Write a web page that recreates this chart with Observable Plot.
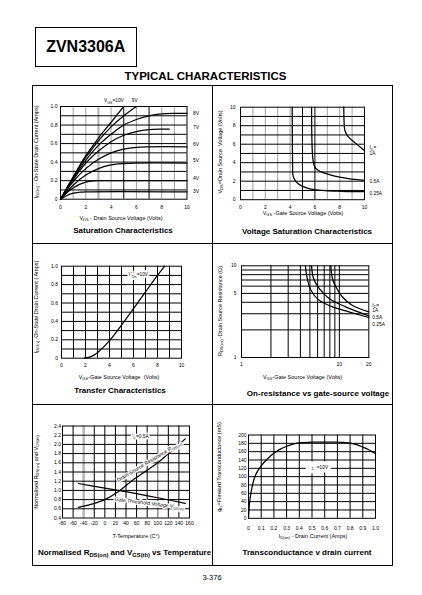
<!DOCTYPE html>
<html><head><meta charset="utf-8">
<script src="https://cdn.jsdelivr.net/npm/d3@7"></script>
<script src="https://cdn.jsdelivr.net/npm/@observablehq/plot@0.6"></script>
<style>
html,body{margin:0;padding:0;background:#fff;}
#page{position:relative;width:422px;height:595px;overflow:hidden;font-family:"Liberation Sans",Arial,Helvetica,sans-serif;color:#000;background:#fff;}
.abs{position:absolute;white-space:nowrap;line-height:1;}
.c{transform:translate(-50%,-50%);}
.r{transform:translate(-50%,-50%) rotate(-90deg);}
sub{font-size:0.72em;vertical-align:-0.3em;line-height:0;}
.lbl{font-size:5.5px;}
.ttl{font-size:8px;font-weight:bold;}
.ln{position:absolute;background:#000;}
</style></head><body><div id="page"></div>
<script>
// ---------- DATA ----------
// Chart 1: Saturation characteristics  (VDS volts, ID amps)
const satXTicks = [0,2,4,6,8,10];
const satYTicks = [0,0.2,0.4,0.6,0.8,1.0];
const satGridDark = [5,7];
const satGridLight = [1,2,4,6,8,9];
const satGridHeavy = [3];
const satGridY = [0.1,0.2,0.3,0.4,0.5,0.6,0.7,0.8,0.9];
const sat10V = [[0,0],[0.5,0.12],[1,0.24],[1.5,0.36],[2,0.47],[3,0.66],[4,0.83],[5,1.0]];
const sat9V  = [[0,0],[0.5,0.12],[1,0.235],[2,0.45],[3,0.63],[4,0.78],[5,0.9],[6,1.0]];
const sat8V  = [[0,0],[1,0.225],[2,0.42],[3,0.58],[4,0.7],[5,0.8],[6,0.86],[7,0.9],[8,0.92],[9,0.925],[10,0.925]];
const sat7V  = [[0,0],[1,0.21],[2,0.39],[3,0.52],[4,0.62],[5,0.69],[6,0.73],[7,0.75],[8,0.755],[8.6,0.755]];
const sat6V  = [[0,0],[1,0.19],[2,0.33],[3,0.43],[4,0.5],[5,0.54],[6,0.56],[7,0.565],[10,0.565]];
const sat5V  = [[0,0],[1,0.15],[2,0.26],[3,0.33],[4,0.37],[5,0.385],[6,0.39],[10,0.39]];
const sat4V  = [[0,0],[0.5,0.07],[1,0.12],[1.5,0.16],[2,0.185],[3,0.2],[4,0.2],[10,0.2]];
const sat3V  = [[0,0],[0.5,0.04],[1,0.065],[1.5,0.075],[2,0.08],[10,0.08]];
const satSideLabels = ["8V","7V","6V","5V","4V","3V"];
const satSideY = [0.92,0.76,0.58,0.41,0.21,0.075];

// Chart 2: Voltage saturation (VGS volts, VDS volts)
const vsXTicks = [0,2,4,6,8,10];
const vsYTicks = [0,2,4,6,8,10];
const vsGridDark = [5,6];
const vsGridLight = [1,2,3,4,7,8,9];
const vsGridY = [1,2,3,4,5,6,7,8,9];
const vs1A   = [[8.33,10],[8.35,8.5],[8.4,7.6],[8.5,7.2],[8.7,6.8],[9.2,6.2],[9.6,5.75],[10,5.3]];
const vs05A  = [[5.73,10],[5.75,7],[5.8,5],[5.87,4.1],[6.0,3.5],[6.3,3.15],[6.6,2.95],[7.6,2.55],[8.7,2.27],[10,2.08]];
const vs025A = [[4.17,10],[4.18,7],[4.2,4],[4.24,2.6],[4.44,2.0],[4.84,1.55],[5.4,1.25],[5.8,1.12],[6.85,0.97],[8,0.91],[10,0.88]];

// Chart 3: Transfer characteristics (VGS volts, ID amps)
const trXTicks = [0,2,4,6,8,10];
const trYTicks = [0,0.2,0.4,0.6,0.8,1.0];
const trGridX = [1,2,3,4,5,6,7,8,9];
const trGridY = [0.1,0.2,0.3,0.4,0.5,0.6,0.7,0.8,0.9];
const trCurve = [[1.9,0],[2.5,0.02],[3,0.06],[3.5,0.12],[4,0.19],[5,0.36],[6,0.54],[7,0.72],[8,0.9],[8.6,1.0]];

// Chart 4: On-resistance vs VGS (log-log)
const ronXTicks = [1,10,20];
const ronYTicks = [1,5,10];
const ronGridX = [2,3,4,5,6,7,8,9,10];
const ronGridY = [2,3,4,5,6,7,8,9];
const ron1A   = [[8.18,10],[8.5,7.27],[9.2,5.9],[10.7,4.6],[13.5,3.72],[20,3.15]];
const ron05A  = [[5.2,10],[5.45,7.27],[6.22,5.66],[7.85,4.4],[11.6,3.57],[20,2.85]];
const ron025A = [[4.5,10],[4.7,7.27],[5.12,5.42],[6.22,4.2],[8.5,3.57],[12.5,3.15],[20,2.73]];

// Chart 5: Normalised RDS(on) and VGS(th) vs temperature
const tmpXTicks = [-80,-60,-40,-20,0,20,40,60,80,100,120,140,160];
const tmpYTicks = [0.4,0.6,0.8,1.0,1.2,1.4,1.6,1.8,2.0,2.2,2.4];
const tmpGridX = [-60,-20,0,20,40,60,80,120,140];
const tmpGridXGray = [100];
const tmpGridXHeavy = [-40];
const tmpGridY = [0.6,0.8,1.0,1.2,1.4,1.6,1.8,2.0,2.2];
const tmpRds = [[-50,0.63],[-25,0.7],[0,0.8],[25,0.97],[50,1.2],[75,1.4],[100,1.6],[125,1.85],[152,2.12]];
const tmpVth = [[-50,1.15],[0,1.05],[25,1.0],[50,0.95],[100,0.84],[152,0.72]];

// Chart 6: Transconductance vs drain current
const gfsXTicks = [0,0.1,0.2,0.3,0.4,0.5,0.6,0.7,0.8,0.9,1.0];
const gfsYTicks = [0,20,40,60,80,100,120,140,160,180,200];
const gfsGridX = [0.1,0.2,0.3,0.4,0.5,0.6,0.7,0.8,0.9];
const gfsGridY = [20,40,60,80,100,120,140,160,180];
const gfsCurve = [[0,0],[0.005,25],[0.01,42],[0.02,62],[0.03,78],[0.05,100],[0.075,115],[0.1,126],[0.15,143],[0.2,156],[0.25,166],[0.3,173],[0.35,178],[0.4,181],[0.5,183],[0.6,183],[0.7,183],[0.75,182],[0.8,180.5],[0.85,177],[0.9,171],[0.95,164],[1.0,155]];

// ---------- HELPERS ----------
const FONT = '"Liberation Sans", Arial, Helvetica, sans-serif';
const page = document.getElementById('page');
const rows = (name, pts) => pts.map(([x, y]) => ({x, y, k: name}));
const fmt1 = d => d === 0 ? "0" : d.toFixed(1);
const fmtInt = d => String(d);

function subs(svg) {
  svg.querySelectorAll('text').forEach(t => {
    const s = t.textContent;
    if (!s.includes('_{')) return;
    const size = parseFloat(t.getAttribute('font-size') || getComputedStyle(t).fontSize) || 5;
    while (t.firstChild) t.removeChild(t.firstChild);
    let shifted = false;
    s.split(/(_\{[^}]*\})/).forEach(p => {
      if (!p) return;
      const ts = document.createElementNS('http://www.w3.org/2000/svg', 'tspan');
      if (p.startsWith('_{')) {
        ts.textContent = p.slice(2, -1);
        ts.setAttribute('font-size', size * 0.72);
        ts.setAttribute('dy', size * 0.3);
        shifted = true;
      } else {
        ts.textContent = p;
        if (shifted) { ts.setAttribute('dy', -size * 0.3); shifted = false; }
      }
      t.appendChild(ts);
    });
  });
}
function place(svg, left, top) {
  svg.style.position = 'absolute';
  svg.style.left = left + 'px';
  svg.style.top = top + 'px';
  subs(svg);
  page.appendChild(svg);
}
function div(html, cls, x, y, css) {
  const d = document.createElement('div');
  d.className = 'abs ' + cls;
  d.innerHTML = html;
  d.style.left = x + 'px';
  d.style.top = y + 'px';
  if (css) d.style.cssText += css;
  page.appendChild(d);
  return d;
}
function line(x, y, w, h) {
  const d = document.createElement('div');
  d.className = 'ln';
  d.style.cssText += `left:${x}px;top:${y}px;width:${w}px;height:${h}px;`;
  page.appendChild(d);
}
const baseStyle = {fontFamily: FONT, fontSize: "5px", background: "transparent", overflow: "visible", color: "#000"};
const gridDark = {stroke: "#000", strokeWidth: 1, strokeOpacity: 1};
const gridLight = {stroke: "#a0a0a0", strokeWidth: 1, strokeOpacity: 1};
const curveStyle = {stroke: "#000", strokeWidth: 1.25, curve: "catmull-rom"};
const txt = {fill: "#000", fontSize: 4.8};

// ---------- PAGE FURNITURE ----------
div("ZVN3306A", "", 35, 27, "width:101.5px;height:39.5px;border:1px solid #000;box-sizing:border-box;display:flex;align-items:center;justify-content:center;font-weight:bold;font-size:16px;");
div("TYPICAL CHARACTERISTICS", "c", 205.5, 77, "font-weight:bold;font-size:11.5px;");
div("", "", 31.5, 85, "width:361px;height:481px;border:1px solid #000;box-sizing:border-box;");
line(212.2, 85, 1, 481);
line(31.5, 243, 361, 1);
line(31.5, 404, 361, 1);
div("3-376", "c", 212, 578, "font-size:7.5px;");

// ---------- CHART 1 ----------
{
  const data = [["10V",sat10V],["9V",sat9V],["8V",sat8V],["7V",sat7V],["6V",sat6V],["5V",sat5V],["4V",sat4V],["3V",sat3V]].flatMap(([n,p]) => rows(n,p));
  const side = satSideLabels.map((t,i) => ({t, y: satSideY[i]}));
  const svg = Plot.plot({
    width: 180, height: 157, marginLeft: 28, marginRight: 25.5, marginTop: 20, marginBottom: 44.3,
    style: baseStyle,
    x: {domain: [0,10], ticks: satXTicks, tickSize: 0, tickPadding: 6, tickFormat: fmtInt, label: null},
    y: {domain: [0,1], ticks: satYTicks, tickSize: 0, tickPadding: 3, tickFormat: fmt1, label: null},
    marks: [
      Plot.ruleX(satGridLight, gridLight),
      Plot.ruleX(satGridHeavy, {stroke: "#b4b4b4", strokeWidth: 2.2}),
      Plot.ruleX(satGridDark, gridDark),
      Plot.ruleY(satGridY, gridDark),
      Plot.line(data, {x: "x", y: "y", z: "k", ...curveStyle}),
      Plot.frame({stroke: "#000", strokeWidth: 1}),
      Plot.text([{x: 5, y: 1, t: "V_{GS}=10V"}, {x: 6.1, y: 1, t: "9V"}], {x: "x", y: "y", text: "t", dy: -6, textAnchor: "end", ...txt}),
      Plot.text(side, {frameAnchor: "right", y: "y", text: "t", dx: 6, dy: -1, textAnchor: "start", ...txt, fontSize: 5})
    ]
  });
  place(svg, 32, 86);
  div("I<sub>D(On)</sub> - On-State Drain Current (Amps)", "r lbl", 36.5, 152);
  div("V<sub>DS</sub> - Drain Source Voltage (Volts)", "c lbl", 121, 219);
  div("Saturation Characteristics", "c ttl", 123, 231);
}

// ---------- CHART 2 ----------
{
  const data = [...rows("1A", vs1A), ...rows("0.5A", vs05A), ...rows("0.25A", vs025A)];
  const svg = Plot.plot({
    width: 179, height: 157, marginLeft: 27, marginRight: 28, marginTop: 20.7, marginBottom: 43.8,
    style: baseStyle,
    x: {domain: [0,10], ticks: vsXTicks, tickSize: 0, tickPadding: 5.5, tickFormat: fmtInt, label: null},
    y: {domain: [0,10], ticks: vsYTicks, tickSize: 0, tickPadding: 5, tickFormat: fmtInt, label: null},
    marks: [
      Plot.ruleX(vsGridLight, gridLight),
      Plot.ruleX(vsGridDark, gridDark),
      Plot.ruleY(vsGridY, gridDark),
      Plot.line(data, {x: "x", y: "y", z: "k", ...curveStyle}),
      Plot.frame({stroke: "#000", strokeWidth: 1}),
      Plot.text([{t: "I_{D}=", y: 5.6}, {t: "1A", y: 5.05}, {t: "0.5A", y: 1.95}, {t: "0.25A", y: 0.7}],
        {frameAnchor: "right", y: "y", text: "t", dx: 5, textAnchor: "start", ...txt})
    ]
  });
  place(svg, 213, 86);
  div("V<sub>DS</sub>=Drain Source&nbsp; Voltage (Volts)", "r lbl", 221, 152);
  div("V<sub>GS</sub> -Gate Source Voltage (Volts)", "c lbl", 303, 213.5);
  div("Voltage Saturation Characteristics", "c ttl", 307, 231.5);
}

// ---------- CHART 3 ----------
{
  const svg = Plot.plot({
    width: 180, height: 160, marginLeft: 29, marginRight: 31, marginTop: 21.7, marginBottom: 46.3,
    style: baseStyle,
    x: {domain: [0,10], ticks: trXTicks, tickSize: 0, tickPadding: 5.5, tickFormat: fmtInt, label: null},
    y: {domain: [0,1], ticks: trYTicks, tickSize: 0, tickPadding: 3.5, tickFormat: fmt1, label: null},
    marks: [
      Plot.ruleX(trGridX, gridDark),
      Plot.ruleY(trGridY, gridDark),
      Plot.line(rows("10V", trCurve), {x: "x", y: "y", ...curveStyle}),
      Plot.frame({stroke: "#000", strokeWidth: 1}),
      Plot.text([{x: 6.4, y: 0.91, t: "V_{DS}=10V"}], {x: "x", y: "y", text: "t", ...txt, stroke: "#fff", strokeWidth: 4, paintOrder: "stroke"})
    ]
  });
  place(svg, 32, 244);
  div("I<sub>D(On)</sub> -On-State Drain Current ( Amps)", "r lbl", 36.5, 307);
  div("V<sub>GS</sub>-Gate Source Voltage&nbsp; (Volts)", "c lbl", 119, 378);
  div("Transfer Characteristics", "c ttl", 120, 391);
}

// ---------- CHART 4 ----------
{
  const data = [...rows("1A", ron1A), ...rows("0.5A", ron05A), ...rows("0.25A", ron025A)];
  const svg = Plot.plot({
    width: 179, height: 160, marginLeft: 28, marginRight: 23.7, marginTop: 21.3, marginBottom: 47,
    style: baseStyle,
    x: {type: "log", domain: [1,20], ticks: ronXTicks, tickSize: 0, tickPadding: 4.5, tickFormat: fmtInt, label: null},
    y: {type: "log", domain: [1,10], ticks: ronYTicks, tickSize: 0, tickPadding: 5, tickFormat: fmtInt, label: null},
    marks: [
      Plot.ruleX(ronGridX, gridDark),
      Plot.ruleY(ronGridY, gridDark),
      Plot.line(data, {x: "x", y: "y", z: "k", ...curveStyle}),
      Plot.frame({stroke: "#000", strokeWidth: 1}),
      Plot.text([{t: "I_{D}=", y: 3.72}, {t: "1A", y: 3.28}, {t: "0.5A", y: 2.72}, {t: "0.25A", y: 2.3}],
        {frameAnchor: "right", y: "y", text: "t", dx: 3.5, textAnchor: "start", ...txt})
    ]
  });
  place(svg, 213, 244);
  div("R<sub>DS(on)</sub> -Drain Source Resistance (&Omega;)", "r lbl", 221, 311);
  div("V<sub>GS</sub>-Gate Source Voltage (Volts)", "c lbl", 302.5, 377.5);
  div("On-resistance vs gate-source voltage", "c ttl", 318, 393.5);
}

// ---------- CHART 5 ----------
{
  const svg = Plot.plot({
    width: 180, height: 161, marginLeft: 30, marginRight: 23, marginTop: 20.5, marginBottom: 48.5,
    style: baseStyle,
    x: {domain: [-80,160], ticks: tmpXTicks, tickSize: 0, tickPadding: 3, tickFormat: fmtInt, label: null},
    y: {domain: [0.4,2.4], ticks: tmpYTicks, tickSize: 0, tickPadding: 1.5, tickFormat: fmt1, label: null},
    marks: [
      Plot.ruleX(tmpGridX, gridDark),
      Plot.ruleX(tmpGridXGray, {stroke: "#8c8c8c", strokeWidth: 1.5}),
      Plot.ruleX(tmpGridXHeavy, {stroke: "#b4b4b4", strokeWidth: 2.4}),
      Plot.ruleY(tmpGridY, gridDark),
      Plot.line(rows("rds", tmpRds), {x: "x", y: "y", ...curveStyle}),
      Plot.line(rows("vth", tmpVth), {x: "x", y: "y", ...curveStyle}),
      Plot.frame({stroke: "#000", strokeWidth: 1}),
      Plot.text([{x: 67, y: 2.18, t: "I_{D}=0.5A"}], {x: "x", y: "y", text: "t", ...txt, stroke: "#fff", strokeWidth: 3, paintOrder: "stroke"}),
      Plot.text([{x: 84, y: 1.63, t: "Drain-Source Resistance R_{DS(on)}"}], {x: "x", y: "y", text: "t", rotate: -31, ...txt, fontSize: 5.2, stroke: "#fff", strokeWidth: 2.5, paintOrder: "stroke"}),
      Plot.text([{x: 84, y: 0.72, t: "Gate Threshold Voltage V_{GS(th)}"}], {x: "x", y: "y", text: "t", rotate: 7, ...txt, fontSize: 5.2, stroke: "#fff", strokeWidth: 2.5, paintOrder: "stroke"})
    ]
  });
  place(svg, 32, 404.5);
  div("Normalised R<sub>DS(on)</sub> and V<sub>GS(th)</sub>", "r lbl", 36.5, 472);
  div("T-Temperature (C&deg;)", "c lbl", 136, 537);
  div("Normalised R<sub>DS(on)</sub> and V<sub>GS(th)</sub> vs Temperature", "c ttl", 124.5, 553);
}

// ---------- CHART 6 ----------
{
  const svg = Plot.plot({
    width: 179, height: 161, marginLeft: 35, marginRight: 17, marginTop: 29.5, marginBottom: 48.2,
    style: baseStyle,
    x: {domain: [0,1], ticks: gfsXTicks, tickSize: 0, tickPadding: 8, tickFormat: d => d === 0 ? "0" : d.toFixed(1), label: null},
    y: {domain: [0,200], ticks: gfsYTicks, tickSize: 0, tickPadding: 2, tickFormat: fmtInt, label: null},
    marks: [
      Plot.ruleX(gfsGridX, gridDark),
      Plot.ruleY(gfsGridY, gridDark),
      Plot.line(rows("gfs", gfsCurve), {x: "x", y: "y", ...curveStyle}),
      Plot.frame({stroke: "#000", strokeWidth: 1}),
      Plot.text([{x: 0.55, y: 123, t: "V_{DS}=10V"}], {x: "x", y: "y", text: "t", ...txt, stroke: "#fff", strokeWidth: 7, paintOrder: "stroke"})
    ]
  });
  place(svg, 213, 404.5);
  div("g<sub>fs</sub>=Forward Transconductance (mS)", "r lbl", 220, 467);
  div("I<sub>D(on)</sub> - Drain Current (Amps)", "c lbl", 313, 537);
  div("Transconductance v drain current", "c ttl", 307, 552.5);
}
</script></body></html>
